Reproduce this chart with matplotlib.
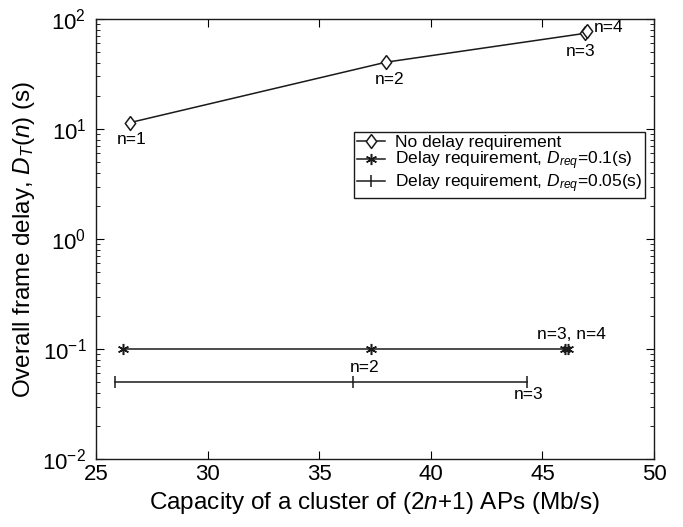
import matplotlib
matplotlib.use("Agg")
import matplotlib.pyplot as plt
from matplotlib.ticker import LogLocator, NullFormatter

plt.rcParams['font.family'] = ['Liberation Sans', 'DejaVu Sans']
plt.rcParams['mathtext.fontset'] = 'custom'
plt.rcParams['mathtext.rm'] = 'Liberation Sans'
plt.rcParams['mathtext.it'] = 'Liberation Sans:italic'
plt.rcParams['mathtext.default'] = 'it'

# data
cap_none = [26.5, 38.0, 46.9, 47.0]
delay_none = [11.4, 40.5, 74.0, 78.0]

cap_d01 = [26.2, 37.3, 46.0, 46.15]
delay_d01 = [0.1, 0.1, 0.1, 0.1]

cap_d005 = [25.85, 36.5, 44.3]
delay_d005 = [0.05, 0.05, 0.05]

fig = plt.figure(figsize=(6.83, 5.27), dpi=100)
ax = fig.add_axes([0.1406, 0.129, 0.817, 0.835])

lc = '#1a1a1a'
# MATLAB style diamond: a bit taller than wide
diamond = [(0, 1), (0.75, 0), (0, -1), (-0.75, 0), (0, 1)]
ax.plot(cap_none, delay_none, color=lc, lw=1.1, marker=diamond, markersize=10,
        markerfacecolor='white', markeredgecolor=lc, markeredgewidth=1.1,
        label='No delay requirement')
ax.plot(cap_d01, delay_d01, color=lc, lw=1.1, marker=(6, 2, 0), markersize=8,
        markeredgewidth=1.1, label='Delay requirement, $D_{req}$=0.1(s)')
ax.plot(cap_d005, delay_d005, color=lc, lw=1.1, marker='|', markersize=9,
        markeredgewidth=1.1, label='Delay requirement, $D_{req}$=0.05(s)')

# point annotations (offsets in pixels)
fs = 12.5
def note(txt, x, y, dx, dy, ha='center'):
    ax.annotate(txt, (x, y), xytext=(dx, dy), textcoords='offset pixels',
                ha=ha, va='center', fontsize=fs)

note("n=1", cap_none[0], delay_none[0], 2, -17)
note("n=2", cap_none[1], delay_none[1], 3, -17)
note("n=3", cap_none[2], delay_none[2], -4, -18)
note("n=4", cap_none[3], delay_none[3], 7, 3, ha='left')
note("n=3, n=4", cap_d01[2], delay_d01[2], 7, 15)
note("n=2", cap_d01[1], delay_d01[1], -6, -18)
note("n=3", cap_d005[2], delay_d005[2], 2, -12)

ax.set_yscale('log')
ax.set_xlim(25, 50)
ax.set_ylim(1e-2, 1e2)
ax.set_xticks([25, 30, 35, 40, 45, 50])
ax.yaxis.set_major_locator(LogLocator(base=10, numticks=10))
ax.yaxis.set_minor_locator(LogLocator(base=10, subs=range(2, 10), numticks=20))
ax.yaxis.set_minor_formatter(NullFormatter())
ax.tick_params(which='both', direction='in', top=True, right=True, labelsize=16)
ax.tick_params(which='major', length=6)
ax.tick_params(which='minor', length=3)
ax.tick_params(axis='y', pad=7)
for s in ax.spines.values():
    s.set_linewidth(1.0)
    s.set_color(lc)

ax.set_xlabel('Capacity of a cluster of (2$n$+1) APs (Mb/s)', fontsize=17.5)
ax.set_ylabel('Overall frame delay, $D_T(n)$ (s)', fontsize=17.5)

leg = ax.legend(loc='upper right', bbox_to_anchor=(0.984, 0.743), fontsize=12.5,
                frameon=True, fancybox=False, edgecolor=lc, framealpha=1,
                handlelength=1.6, handletextpad=0.6, borderpad=0.15,
                labelspacing=0.0, borderaxespad=0)
leg.get_frame().set_linewidth(1.0)

fig.savefig('out.png', dpi=100)
